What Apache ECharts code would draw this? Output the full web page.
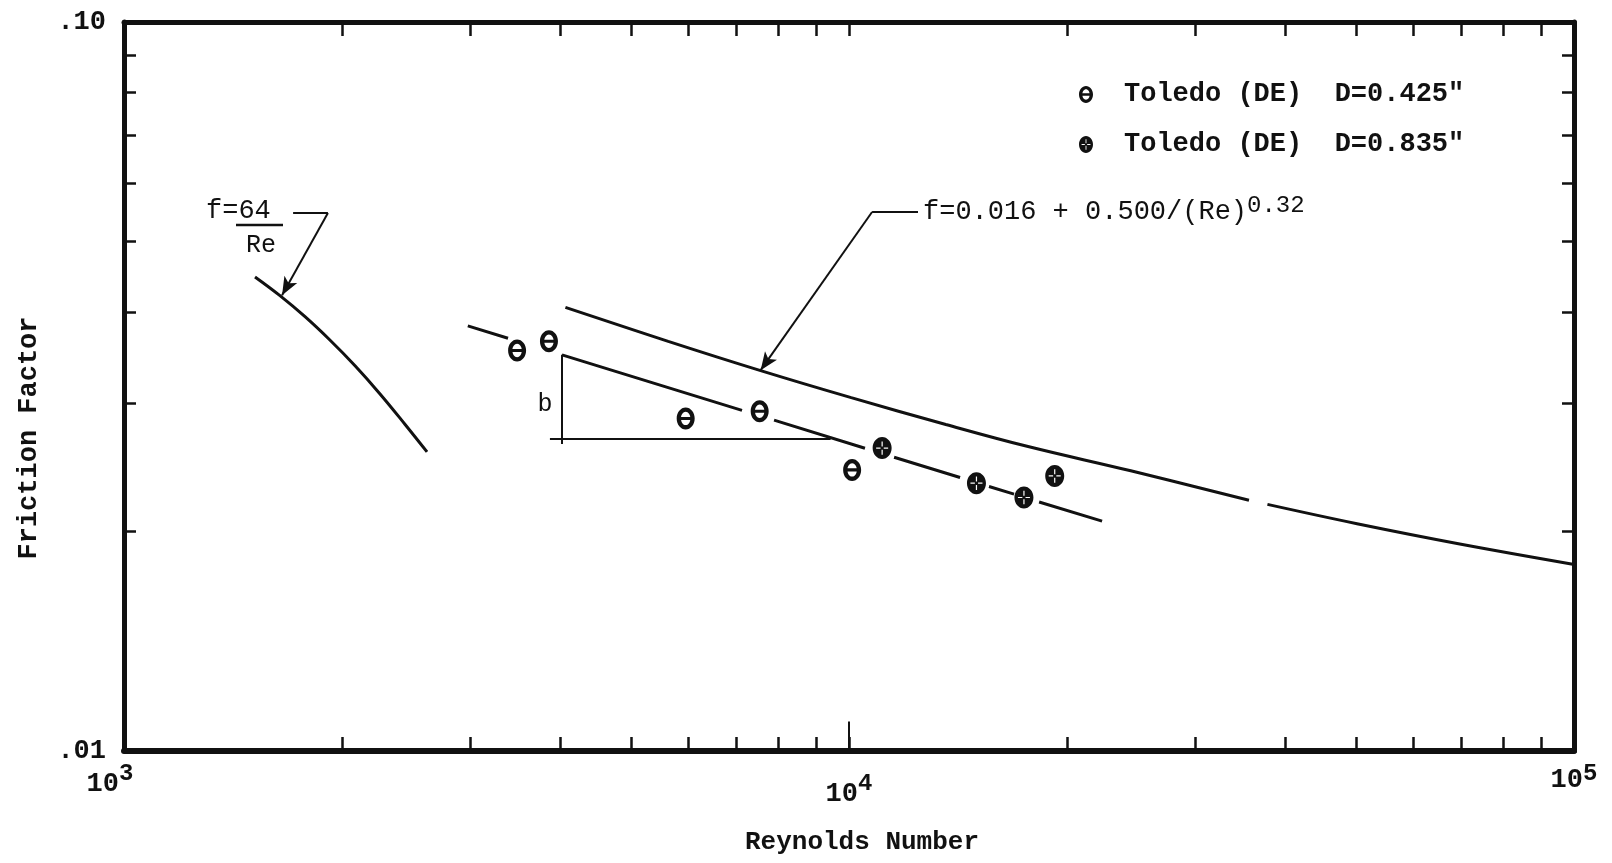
<!DOCTYPE html>
<html>
<head>
<meta charset="utf-8">
<script src="https://cdn.jsdelivr.net/npm/echarts@6/dist/echarts.min.js"></script>
<style>html,body{margin:0;padding:0;background:#fff}#c{width:1612px;height:863px}</style>
</head>
<body>
<div id="c"></div>
<script>
// ---------- axis ranges & ticks ----------
const xRange = [1000, 100000];
const yRange = [0.01, 0.1];
const xMinorTicks = [2000,3000,4000,5000,6000,7000,8000,9000,10000,20000,30000,40000,50000,60000,70000,80000,90000];
const yMinorTicks = [0.02,0.03,0.04,0.05,0.06,0.07,0.08,0.09];
const xLabelValues = [1000, 10000, 100000];
const xLabelExponents = ['3', '4', '5'];
const yLabelValues = [0.01, 0.1];
const yLabelTexts = ['.01', '.10'];

// ---------- data: Toledo (DE) D=0.425" ----------
const smallRe = [3485, 3856, 5953, 7530, 10100];
const smallF  = [0.03543, 0.03648, 0.02859, 0.02925, 0.02430];
// ---------- data: Toledo (DE) D=0.835" ----------
const largeRe = [11110, 14990, 17430, 19220];
const largeF  = [0.02603, 0.02330, 0.02227, 0.02384];

// ---------- laminar curve f=64/Re ----------
const laminarRe = [1516, 1641, 1777, 1923, 2083, 2255, 2442, 2618];
const laminarF  = [0.04469, 0.04213, 0.03942, 0.03662, 0.03376, 0.03089, 0.02805, 0.02572];

// ---------- correlation curve f=0.016+0.500/Re^0.32 (null = gap) ----------
const corrRe = [4063, 5632, 7553, 10070, 13600, 17660, 24470, 35620, null, 37770, 50200, 69570, 99600];
const corrF  = [0.04060, 0.03647, 0.03325, 0.03053, 0.02805, 0.02616, 0.02423, 0.02208, null, 0.02179, 0.02050, 0.01923, 0.01804];

// ---------- fitted line through data (segments between symbols, null = gap) ----------
const fitRe = [2980, 3386, null, 4019, 7119, null, 7882, 10520, null, 11540, 14230, null, 15600, 16890, null, 18290, 22340];
const fitF  = [0.03830, 0.03683, null, 0.03494, 0.02933, null, 0.02844, 0.02602, null, 0.02529, 0.02372, null, 0.02306, 0.02251, null, 0.02196, 0.02067];

// ---------- annotation geometry (data space) ----------
const laminarLeaderRe = [1711, 1911, 1652];
const laminarLeaderF  = [0.0547, 0.0547, 0.0422];
const corrLeaderRe = [12450, 10760, 7553];
const corrLeaderF  = [0.05488, 0.05488, 0.0333];
const bVerticalRe = [4020, 4020];
const bVerticalF  = [0.03496, 0.02637];
const bHorizontalRe = [3868, 9433];
const bHorizontalF  = [0.02679, 0.02679];
const longTickRe = [10000, 10000];
const longTickF  = [0.01, 0.01098];

// ---------- names ----------
const seriesNames = ['Toledo (DE)  D=0.425"', 'Toledo (DE)  D=0.835"'];
const xTitle = 'Reynolds Number';
const yTitle = 'Friction Factor';

// ---------- helpers ----------
function pairs(xs, ys) {
  return xs.map((x, i) => (x === null || ys[i] === null) ? ['-', '-'] : [x, ys[i]]);
}
function seg(xs, ys, i, j, endSymbol) {
  const a = {coord: [xs[i], ys[i]], symbol: 'none'};
  const b = {coord: [xs[j], ys[j]], symbol: endSymbol || 'none'};
  if (endSymbol) b.symbolSize = [11, 18];
  return [a, b];
}

const FONT = '"Liberation Mono","DejaVu Sans Mono",monospace';
const INK = '#111';

const thetaPath = 'path://M10 0.5 C15.25 0.5 19.5 5.65 19.5 12 C19.5 18.35 15.25 23.5 10 23.5 C4.75 23.5 0.5 18.35 0.5 12 C0.5 5.65 4.75 0.5 10 0.5 Z ' +
  'M10 5 C7.24 5 5 8.13 5 12 C5 15.87 7.24 19 10 19 C12.76 19 15 15.87 15 12 C15 8.13 12.76 5 10 5 Z ' +
  'M4 10.4 L16 10.4 L16 13.6 L4 13.6 Z';
const plusPath = 'path://M10 0.5 C15.25 0.5 19.5 5.65 19.5 12 C19.5 18.35 15.25 23.5 10 23.5 C4.75 23.5 0.5 18.35 0.5 12 C0.5 5.65 4.75 0.5 10 0.5 Z ' +
  'M9.4 5 L9.4 10.2 L10.6 10.2 L10.6 5 Z M9.4 13.8 L9.4 19 L10.6 19 L10.6 13.8 Z ' +
  'M4 11.4 L4 12.6 L8.4 12.6 L8.4 11.4 Z M11.6 11.4 L11.6 12.6 L16 12.6 L16 11.4 Z';

const chart = echarts.init(document.getElementById('c'), null, {renderer: 'canvas'});

function xAxisCfg(pos, withLabels, lineWidth) {
  return {
    type: 'log', logBase: 10, min: xRange[0], max: xRange[1], position: pos,
    axisLine: {show: true, onZero: false, lineStyle: {color: INK, width: lineWidth}},
    axisTick: {show: true, inside: true, length: 14, customValues: xMinorTicks, lineStyle: {color: INK, width: 2.5}},
    minorTick: {show: false}, splitLine: {show: false}, minorSplitLine: {show: false},
    axisLabel: withLabels ? {
      show: true, customValues: xLabelValues, margin: 18, hideOverlap: false,
      showMinLabel: true, showMaxLabel: true,
      formatter: function (v) {
        let k = 0, best = Infinity;
        xLabelValues.forEach((t, i) => { const d = Math.abs(Math.log10(t) - Math.log10(v)); if (d < best) { best = d; k = i; } });
        const e = xLabelExponents[k];
        return '{b' + e + '|10}{s' + e + '|' + e + '}';
      },
      rich: {
        b3: {fontFamily: FONT, fontWeight: 'bold', fontSize: 27, color: INK, lineHeight: 30, padding: [10, 0, 10, 0]},
        s3: {fontFamily: FONT, fontWeight: 'bold', fontSize: 24, color: INK, lineHeight: 30, padding: [0, 28, 20, 0]},
        b4: {fontFamily: FONT, fontWeight: 'bold', fontSize: 27, color: INK, lineHeight: 30, padding: [20, 0, 0, 0]},
        s4: {fontFamily: FONT, fontWeight: 'bold', fontSize: 24, color: INK, lineHeight: 30, padding: [10, 0, 10, 0]},
        b5: {fontFamily: FONT, fontWeight: 'bold', fontSize: 27, color: INK, lineHeight: 30, padding: [6, 0, 14, 0]},
        s5: {fontFamily: FONT, fontWeight: 'bold', fontSize: 24, color: INK, lineHeight: 30, padding: [0, 0, 20, 0]}
      }
    } : {show: false}
  };
}
function yAxisCfg(pos, withLabels) {
  return {
    type: 'log', logBase: 10, min: yRange[0], max: yRange[1], position: pos,
    axisLine: {show: true, onZero: false, lineStyle: {color: INK, width: 5}},
    axisTick: {show: true, inside: true, length: 12, customValues: yMinorTicks, lineStyle: {color: INK, width: 2.5}},
    minorTick: {show: false}, splitLine: {show: false}, minorSplitLine: {show: false},
    axisLabel: withLabels ? {
      show: true, customValues: yLabelValues, margin: 18, hideOverlap: false,
      showMinLabel: true, showMaxLabel: true,
      fontFamily: FONT, fontWeight: 'bold', fontSize: 27, color: INK,
      formatter: function (v) {
        let k = 0, best = Infinity;
        yLabelValues.forEach((t, i) => { const d = Math.abs(Math.log10(t) - Math.log10(v)); if (d < best) { best = d; k = i; } });
        return yLabelTexts[k];
      }
    } : {show: false}
  };
}

const lineStyleMain = {color: INK, width: 3};
const markLineBase = {
  silent: true, animation: false, symbol: ['none', 'none'],
  label: {show: false}, emphasis: {disabled: true},
  lineStyle: {color: INK, width: 2, type: 'solid'}
};

const option = {
  animation: false,
  backgroundColor: '#fff',
  grid: {left: 124, right: 38, top: 22, bottom: 112, containLabel: false},
  xAxis: [xAxisCfg('bottom', true, 6), xAxisCfg('top', false, 5)],
  yAxis: [yAxisCfg('left', true), yAxisCfg('right', false)],
  legend: {
    orient: 'vertical', left: 1074, top: 74, itemWidth: 14, itemHeight: 17, itemGap: 19,
    selectedMode: false,
    textStyle: {fontFamily: FONT, fontWeight: 'bold', fontSize: 27, color: INK, lineHeight: 31, padding: [0, 0, 0, 26]},
    data: [
      {name: seriesNames[0], icon: thetaPath},
      {name: seriesNames[1], icon: plusPath}
    ]
  },
  series: [
    {
      name: 'laminar', type: 'line', xAxisIndex: 0, yAxisIndex: 0,
      data: pairs(laminarRe, laminarF), smooth: 0.4, showSymbol: false, connectNulls: false,
      lineStyle: lineStyleMain, itemStyle: {color: INK}, silent: true,
      markLine: Object.assign({}, markLineBase, {
        data: [
          seg(laminarLeaderRe, laminarLeaderF, 0, 1),
          seg(laminarLeaderRe, laminarLeaderF, 1, 2, 'arrow'),
          seg(longTickRe, longTickF, 0, 1)
        ]
      })
    },
    {
      name: 'correlation', type: 'line', xAxisIndex: 0, yAxisIndex: 0,
      data: pairs(corrRe, corrF), smooth: 0.4, showSymbol: false, connectNulls: false,
      lineStyle: lineStyleMain, itemStyle: {color: INK}, silent: true,
      markLine: Object.assign({}, markLineBase, {
        data: [
          seg(corrLeaderRe, corrLeaderF, 0, 1),
          seg(corrLeaderRe, corrLeaderF, 1, 2, 'arrow')
        ]
      })
    },
    {
      name: 'fit', type: 'line', xAxisIndex: 0, yAxisIndex: 0,
      data: pairs(fitRe, fitF), showSymbol: false, connectNulls: false,
      lineStyle: lineStyleMain, itemStyle: {color: INK}, silent: true,
      markLine: Object.assign({}, markLineBase, {
        data: [
          seg(bVerticalRe, bVerticalF, 0, 1),
          seg(bHorizontalRe, bHorizontalF, 0, 1)
        ]
      })
    },
    {
      name: seriesNames[0], type: 'scatter', xAxisIndex: 0, yAxisIndex: 0,
      data: pairs(smallRe, smallF), symbol: thetaPath, symbolSize: [18, 22],
      itemStyle: {color: INK, opacity: 1}, silent: true
    },
    {
      name: seriesNames[1], type: 'scatter', xAxisIndex: 0, yAxisIndex: 0,
      data: pairs(largeRe, largeF), symbol: plusPath, symbolSize: [19, 22],
      itemStyle: {color: INK, opacity: 1}, silent: true
    }
  ],
  graphic: [
    {type: 'text', x: 206, y: 211, style: {text: 'f=64', font: '27px ' + FONT, fill: INK, align: 'left', verticalAlign: 'middle'}},
    {type: 'line', shape: {x1: 236, y1: 225, x2: 283, y2: 225}, style: {stroke: INK, lineWidth: 2.5}},
    {type: 'text', x: 261, y: 245, style: {text: 'Re', font: '25px ' + FONT, fill: INK, align: 'center', verticalAlign: 'middle'}},
    {type: 'text', x: 923, y: 212, style: {
      text: '{m|f=0.016 + 0.500/(Re)}{p|0.32}', fill: INK, align: 'left', verticalAlign: 'middle',
      rich: {
        m: {fontFamily: FONT, fontSize: 27, fill: INK, lineHeight: 30, padding: [6, 0, 6, 0]},
        p: {fontFamily: FONT, fontSize: 24, fill: INK, lineHeight: 30, padding: [0, 0, 12, 0]}
      }
    }},
    {type: 'text', x: 545, y: 404, style: {text: 'b', font: '25px ' + FONT, fill: INK, align: 'center', verticalAlign: 'middle'}},
    {type: 'text', x: 862, y: 842, style: {text: xTitle, font: 'bold 26px ' + FONT, fill: INK, align: 'center', verticalAlign: 'middle'}},
    {type: 'text', x: 29, y: 438, rotation: Math.PI / 2, style: {text: yTitle, font: 'bold 27px ' + FONT, fill: INK, align: 'center', verticalAlign: 'middle'}}
  ]
};
chart.setOption(option);
</script>
</body>
</html>
